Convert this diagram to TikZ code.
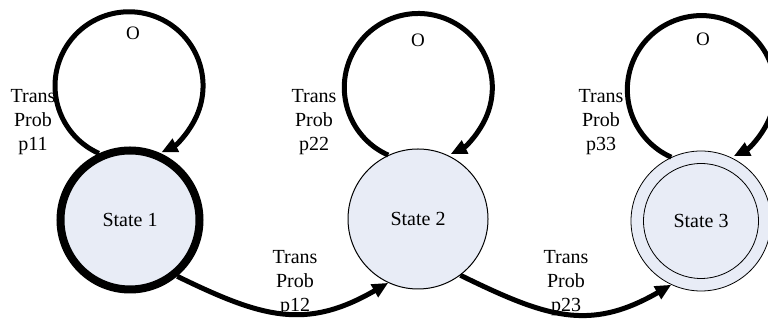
\documentclass[tikz,border=0pt]{standalone}
\usepackage{fontspec}
\setmainfont{Liberation Serif}
\usetikzlibrary{arrows.meta}
\definecolor{statefill}{RGB}{232,236,246}
\begin{document}
\begin{tikzpicture}[x=1pt,y=1pt,
  state/.style={circle, draw=black, fill=statefill, minimum size=140pt, inner sep=0pt, font=\fontsize{20}{24}\selectfont},
  lbl/.style={align=center, font=\fontsize{20}{24}\selectfont, inner sep=0pt},
  olbl/.style={font=\fontsize{19}{20}\selectfont, inner sep=0pt},
  conn/.style={line width=5pt, -{Triangle[length=16pt,width=14pt]}},
]
\useasboundingbox (0,0) rectangle (768,320);
% states
\node[state, line width=8pt, minimum size=139pt] (s1) at (130,100) {State 1};
\node[state, line width=1pt] (s2) at (418,101) {State 2};
\node[state, line width=0.8pt] (s3) at (701,99) {};
\node[circle, draw=black, line width=0.8pt, minimum size=115pt, inner sep=0pt, font=\fontsize{20}{24}\selectfont] (s3i) at (s3) {State 3};
% labels
\node[lbl] (t11) at (33,198) {Trans\\Prob\\p11};
\node[lbl] (t22) at (314,198) {Trans\\Prob\\p22};
\node[lbl] (t33) at (601,198) {Trans\\Prob\\p33};
\node[lbl] (t12) at (295,37) {Trans\\Prob\\p12};
\node[lbl] (t23) at (566,37) {Trans\\Prob\\p23};
\node[olbl] (o1) at (133,287) {O};
\node[olbl] (o2) at (418,280) {O};
\node[olbl] (o3) at (703,281) {O};
% self loops
\draw[conn] (s1.115) arc[start angle=246, end angle=-64, radius=74];
\draw[conn] (s2.115) arc[start angle=246, end angle=-64, radius=74];
\draw[conn] (s3.115) arc[start angle=246, end angle=-64, radius=74];
% transitions
\draw[conn] (s1.-50) .. controls +(-26:95) and +(210:95) .. (s2.245);
\draw[conn] (s2.-53) .. controls +(-26:95) and +(210:95) .. (s3.245);
\end{tikzpicture}
\end{document}
